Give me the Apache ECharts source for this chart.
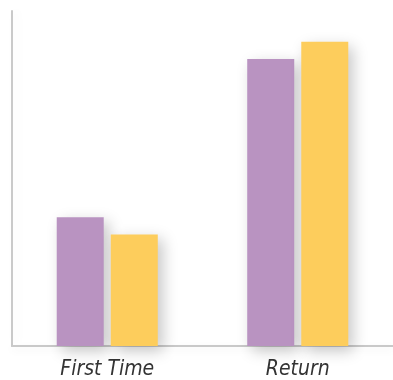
<!DOCTYPE html>
<html>
<head>
<meta charset="utf-8">
<script src="https://cdn.jsdelivr.net/npm/echarts@6/dist/echarts.min.js"></script>
<style>
  html, body { margin: 0; padding: 0; background: #fff; }
  #chart { width: 393px; height: 380px; }
</style>
</head>
<body>
<div id="chart"></div>
<script>
// Visitor groups along the x axis
const categories = ['First Time', 'Return'];
// Two series per group (share, 0–100 scale)
const purpleValues = [38.4, 85.7];
const yellowValues = [33.3, 90.8];

const chart = echarts.init(document.getElementById('chart'));

const barShadow = {
  shadowBlur: 14,
  shadowOffsetX: 5,
  shadowOffsetY: 5,
  shadowColor: 'rgba(0,0,0,0.22)'
};

chart.setOption({
  animation: false,
  grid: { left: 12, right: -4, top: 11, bottom: 33 },
  xAxis: {
    type: 'category',
    data: categories,
    axisTick: { show: false },
    axisLine: {
      lineStyle: {
        color: '#c9c9c9', width: 2,
        shadowBlur: 8, shadowOffsetY: 3, shadowColor: 'rgba(0,0,0,0.08)'
      }
    },
    axisLabel: {
      margin: 13,
      fontFamily: 'DejaVu Sans Condensed, DejaVu Sans',
      fontStyle: 'italic',
      fontSize: 21,
      color: '#333'
    }
  },
  yAxis: {
    type: 'value',
    min: 0,
    max: 100,
    splitLine: { show: false },
    axisTick: { show: false },
    axisLabel: { show: false },
    axisLine: {
      show: true,
      lineStyle: {
        color: '#c9c9c9', width: 2,
        shadowBlur: 10, shadowOffsetX: 4, shadowColor: 'rgba(0,0,0,0.06)'
      }
    }
  },
  series: [
    {
      type: 'bar',
      data: purpleValues,
      barWidth: 47,
      barGap: '15%',
      itemStyle: Object.assign({ color: '#b993c1' }, barShadow)
    },
    {
      type: 'bar',
      data: yellowValues,
      barWidth: 47,
      itemStyle: Object.assign({ color: '#fdcd5c' }, barShadow)
    }
  ]
});
</script>
</body>
</html>
